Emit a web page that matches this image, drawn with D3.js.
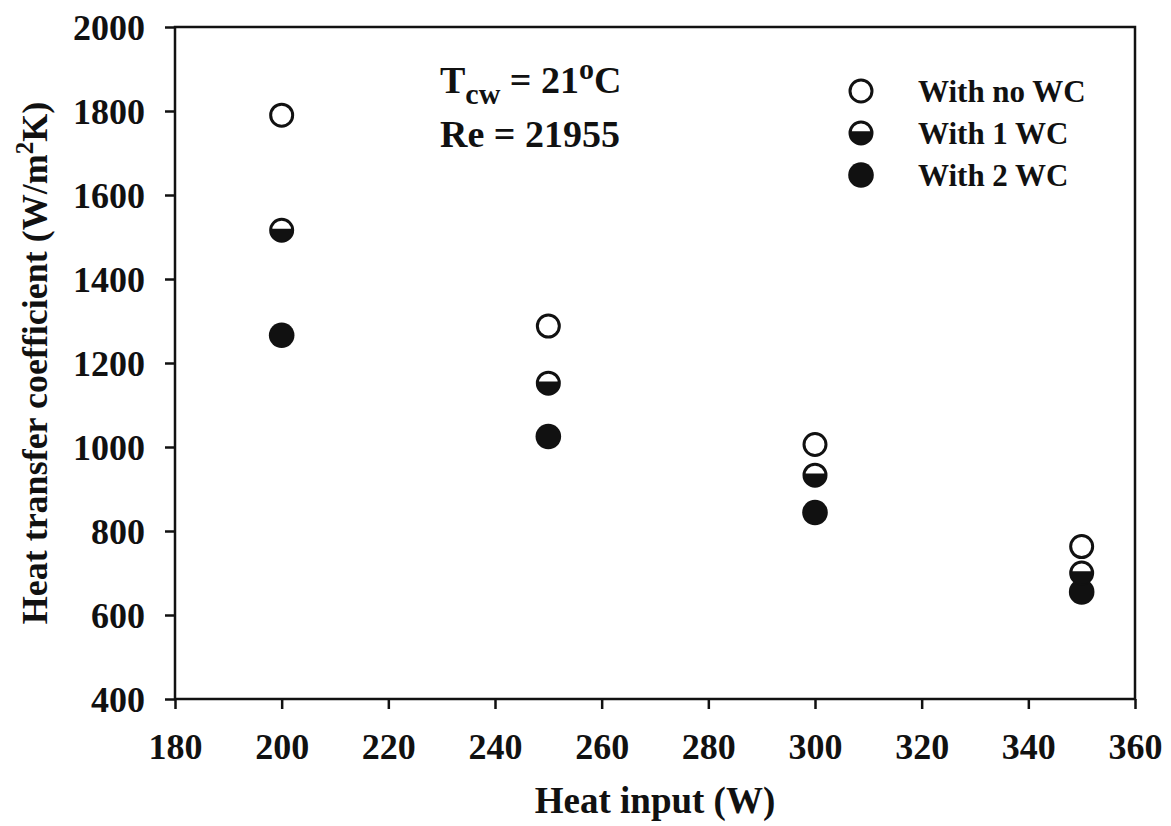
<!DOCTYPE html>
<html>
<head>
<meta charset="utf-8">
<script src="https://cdn.jsdelivr.net/npm/d3@7"></script>
<style>
    body { margin: 0; background: #fff; }
    text { font-family: "Liberation Serif", "Times New Roman", serif; font-weight: bold; fill: #111; }
    .axis path, .axis line { stroke: #111; stroke-width: 2.5; }
</style>
</head>
<body>
<div id="chart"></div>
<script>
// data
const heatInput = [200, 250, 300, 350];
const noWC = [1790, 1288, 1006, 763];
const oneWC = [1516, 1152, 933, 700];
const twoWC = [1266, 1025, 844, 655];

const xTicks = [180, 200, 220, 240, 260, 280, 300, 320, 340, 360];
const yTicks = [400, 600, 800, 1000, 1200, 1400, 1600, 1800, 2000];

const legendLabels = ['With no WC', 'With 1 WC', 'With 2 WC'];

const width = 1171;
const height = 826;
const plotLeft = 175, plotRight = 1135, plotTop = 27, plotBottom = 699;
const r = 11;

const svg = d3.select('#chart')
    .append('svg')
    .attr('width', width)
    .attr('height', height);

const xScale = d3.scaleLinear().domain([180, 360]).range([plotLeft, plotRight]);
const yScale = d3.scaleLinear().domain([400, 2000]).range([plotBottom, plotTop]);

// frame
svg.append('rect')
    .attr('x', plotLeft)
    .attr('y', plotTop)
    .attr('width', plotRight - plotLeft)
    .attr('height', plotBottom - plotTop)
    .attr('fill', 'none')
    .attr('stroke', '#111')
    .attr('stroke-width', 2.5);

const xAxis = svg.append('g')
    .attr('class', 'axis')
    .attr('transform', `translate(0,${plotBottom})`)
    .call(d3.axisBottom(xScale).tickValues(xTicks).tickFormat(d3.format('d'))
        .tickSize(10).tickSizeOuter(0).tickPadding(24));
xAxis.select('.domain').remove();
xAxis.selectAll('text').style('font-size', '36px').attr('fill', '#111');

const yAxis = svg.append('g')
    .attr('class', 'axis')
    .attr('transform', `translate(${plotLeft},0)`)
    .call(d3.axisLeft(yScale).tickValues(yTicks).tickFormat(d3.format('d'))
        .tickSize(10).tickSizeOuter(0).tickPadding(20));
yAxis.select('.domain').remove();
yAxis.selectAll('text').style('font-size', '36px').attr('fill', '#111').attr('dy', '0.34em');

// axis titles
svg.append('text')
    .attr('x', (plotLeft + plotRight) / 2)
    .attr('y', 813)
    .attr('text-anchor', 'middle')
    .style('font-size', '37px')
    .text('Heat input (W)');

const yTitle = svg.append('text')
    .attr('transform', `translate(47,${(plotTop + plotBottom) / 2}) rotate(-90)`)
    .attr('text-anchor', 'middle')
    .style('font-size', '36px');
yTitle.append('tspan').text('Heat transfer coefficient (W/m');
yTitle.append('tspan').attr('baseline-shift', '14').style('font-size', '25px').text('2');
yTitle.append('tspan').text('K)');

// annotation
const ann = svg.append('text')
    .attr('x', 440)
    .attr('y', 93)
    .style('font-size', '38px');
ann.append('tspan').text('T');
ann.append('tspan').attr('baseline-shift', '-11').style('font-size', '30px').text('cw');
ann.append('tspan').text(' = 21');
ann.append('tspan').attr('baseline-shift', '14').style('font-size', '30px').text('o');
ann.append('tspan').text('C');

svg.append('text')
    .attr('x', 440)
    .attr('y', 147)
    .style('font-size', '38px')
    .text('Re = 21955');

// markers
const h = r * 0.15;
const w = Math.sqrt(r * r - h * h);
const halfPath = `M${-w},${-h} A${r},${r} 0 1 0 ${w},${-h} Z`;

function drawOpen(g) {
    g.append('circle').attr('r', r).attr('fill', '#fff').attr('stroke', '#111').attr('stroke-width', 3);
}
function drawHalf(g) {
    g.append('circle').attr('r', r).attr('fill', '#fff').attr('stroke', '#111').attr('stroke-width', 3);
    g.append('path').attr('d', halfPath).attr('fill', '#111');
}
function drawFull(g) {
    g.append('circle').attr('r', r + 1.8).attr('fill', '#111');
}

const series = [
    { values: noWC, draw: drawOpen },
    { values: oneWC, draw: drawHalf },
    { values: twoWC, draw: drawFull }
];

// filled first so the open markers sit on top, as in the original
[2, 1, 0].forEach(si => {
    const s = series[si];
    s.values.forEach((v, i) => {
        const g = svg.append('g')
            .attr('transform', `translate(${xScale(heatInput[i])},${yScale(v)})`);
        s.draw(g);
    });
});

// legend
const legendY = [91, 133, 175];
legendLabels.forEach((label, i) => {
    const g = svg.append('g').attr('transform', `translate(861,${legendY[i]})`);
    series[i].draw(g);
    svg.append('text')
        .attr('x', 918)
        .attr('y', legendY[i])
        .attr('dy', '0.35em')
        .style('font-size', '31px')
        .text(label);
});
</script>
</body>
</html>
